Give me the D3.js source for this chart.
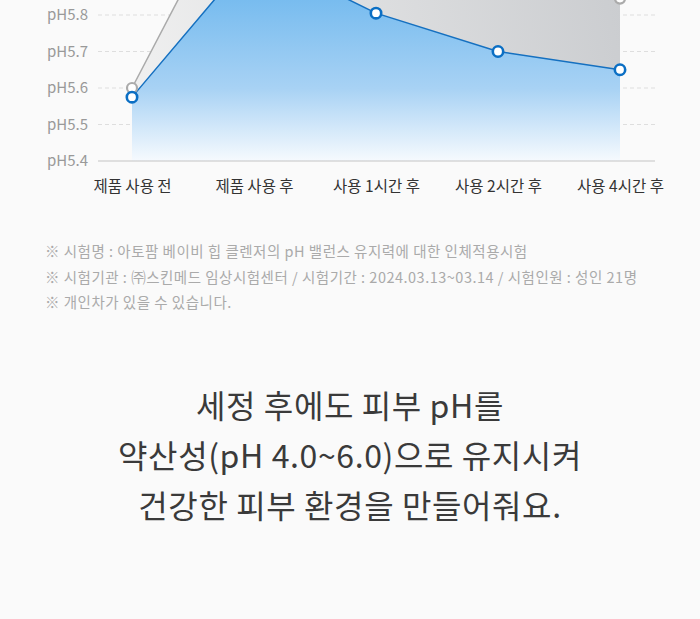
<!DOCTYPE html>
<html>
<head>
<meta charset="utf-8">
<script src="https://cdn.jsdelivr.net/npm/d3@7"></script>
<style>
  html, body { margin: 0; padding: 0; background: #fafafa; }
  svg { display: block; font-family: "Noto Sans CJK KR", "Noto Sans", sans-serif; }
</style>
</head>
<body>
<div id="chart"></div>
<script>
'use strict';

// data (top of the chart is cut off in the source)
var categories = ['제품 사용 전', '제품 사용 후', '사용 1시간 후', '사용 2시간 후', '사용 4시간 후'];
var blueValues = [5.575, 5.97, 5.805, 5.70, 5.65];
var greyValues = [5.60, 6.24, 6.05, 5.93, 5.845];
var yTicks = [5.4, 5.5, 5.6, 5.7, 5.8];
var notes = [
  '※ 시험명 : 아토팜 베이비 힙 클렌저의 pH 밸런스 유지력에 대한 인체적용시험',
  '※ 시험기관 : ㈜스킨메드 임상시험센터 / 시험기간 : 2024.03.13~03.14 / 시험인원 : 성인 21명',
  '※ 개인차가 있을 수 있습니다.'
];
var headline = ['세정 후에도 피부 pH를', '약산성(pH 4.0~6.0)으로 유지시켜', '건강한 피부 환경을 만들어줘요.'];

var W = 700, H = 619;
var svg = d3.select('#chart').append('svg')
  .attr('width', W)
  .attr('height', H);

var x = d3.scalePoint().domain(categories).range([132, 620]);
var y = d3.scaleLinear().domain([5.4, 5.8]).range([161, 15]);

var defs = svg.append('defs');
var gBlue = defs.append('linearGradient')
  .attr('id', 'gBlue')
  .attr('gradientUnits', 'userSpaceOnUse')
  .attr('x1', 0).attr('x2', 0)
  .attr('y1', 0).attr('y2', y(5.4));
gBlue.append('stop').attr('offset', '0%').attr('stop-color', '#78bcef');
gBlue.append('stop').attr('offset', '55%').attr('stop-color', '#a8d2f4');
gBlue.append('stop').attr('offset', '100%').attr('stop-color', '#f6fafe');

var gGrey = defs.append('linearGradient')
  .attr('id', 'gGrey')
  .attr('gradientUnits', 'userSpaceOnUse')
  .attr('x1', 132).attr('y1', 100)
  .attr('x2', 620).attr('y2', 0);
gGrey.append('stop').attr('offset', '0%').attr('stop-color', '#f0f0f0');
gGrey.append('stop').attr('offset', '100%').attr('stop-color', '#cbcdd0');

// grid
svg.append('g').selectAll('line')
  .data(yTicks.slice(1))
  .enter().append('line')
  .attr('x1', 98).attr('x2', 655)
  .attr('y1', function (d) { return y(d); })
  .attr('y2', function (d) { return y(d); })
  .attr('stroke', '#dedede')
  .attr('stroke-dasharray', '4,3');

// y axis labels
var yAxis = d3.axisLeft(y).tickValues(yTicks).tickSize(0).tickPadding(0)
  .tickFormat(function (d) { return 'pH' + d.toFixed(1); });
var ya = svg.append('g').attr('transform', 'translate(88,0)').call(yAxis);
ya.select('.domain').remove();
ya.selectAll('text')
  .attr('fill', '#999')
  .attr('font-size', 15)
  .attr('font-family', '"Noto Sans CJK KR", sans-serif');

var area = d3.area()
  .x(function (d, i) { return x(categories[i]); })
  .y0(y(5.4))
  .y1(function (d) { return y(d); });
var line = d3.line()
  .x(function (d, i) { return x(categories[i]); })
  .y(function (d) { return y(d); });

// grey series
svg.append('path').datum(greyValues).attr('d', area).attr('fill', 'url(#gGrey)');
// blue series
svg.append('path').datum(blueValues).attr('d', area).attr('fill', 'url(#gBlue)');

svg.append('path').datum(greyValues).attr('d', line)
  .attr('fill', 'none').attr('stroke', '#aaaaaa').attr('stroke-width', 1.5);
svg.append('path').datum(blueValues).attr('d', line)
  .attr('fill', 'none').attr('stroke', '#1570c0').attr('stroke-width', 1.5);

// baseline
svg.append('line')
  .attr('x1', 98).attr('x2', 655)
  .attr('y1', y(5.4)).attr('y2', y(5.4))
  .attr('stroke', '#c4c4c4').attr('stroke-width', 1.2);

svg.append('g').selectAll('circle')
  .data(greyValues)
  .enter().append('circle')
  .attr('cx', function (d, i) { return x(categories[i]); })
  .attr('cy', function (d) { return y(d); })
  .attr('r', 5)
  .attr('fill', '#fff')
  .attr('stroke', '#ababab')
  .attr('stroke-width', 2.2);

svg.append('g').selectAll('circle')
  .data(blueValues)
  .enter().append('circle')
  .attr('cx', function (d, i) { return x(categories[i]); })
  .attr('cy', function (d) { return y(d); })
  .attr('r', 5.2)
  .attr('fill', '#fff')
  .attr('stroke', '#0b6fc4')
  .attr('stroke-width', 2.6);

// x labels
var xAxis = d3.axisBottom(x).tickSize(0).tickPadding(0);
var xa = svg.append('g').attr('transform', 'translate(0,181)').call(xAxis);
xa.select('.domain').remove();
xa.selectAll('text')
  .attr('fill', '#333')
  .attr('font-size', 15.5)
  .attr('font-family', '"Noto Sans CJK KR", sans-serif');

// footnotes
svg.append('g').selectAll('text')
  .data(notes)
  .enter().append('text')
  .attr('x', 45)
  .attr('y', function (d, i) { return 257 + i * 25.5; })
  .attr('fill', '#aaa')
  .attr('font-size', 14.5)
  .attr('letter-spacing', 0.5)
  .text(function (d) { return d; });

// headline
svg.append('g').selectAll('text')
  .data(headline)
  .enter().append('text')
  .attr('x', 350)
  .attr('y', function (d, i) { return 418 + i * 50; })
  .attr('text-anchor', 'middle')
  .attr('fill', '#3a3a3a')
  .attr('font-size', 32)
  .attr('letter-spacing', 0.6)
  .text(function (d) { return d; });
</script>
</body>
</html>
